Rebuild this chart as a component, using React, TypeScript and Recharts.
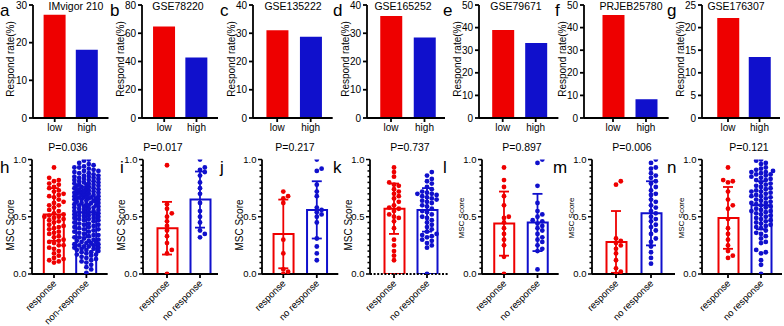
import React from "react";
import { BarChart, ComposedChart, Bar, Cell, Scatter, ErrorBar, XAxis, YAxis } from "recharts";

const RED = "#ee0000";
const BLUE = "#1010cc";
const FONT = "'Liberation Sans', Arial, Helvetica, sans-serif";

// ---- top row: respond rate (%) in low / high MSC groups ----
const cohorts = ["IMvigor 210", "GSE78220", "GSE135222", "GSE165252", "GSE79671", "PRJEB25780", "GSE176307"];
const topLetters = ["a", "b", "c", "d", "e", "f", "g"];
const groups = ["low", "high"];
const rateLow = [27.4, 64.8, 31.1, 36.1, 38.9, 45.6, 22.1];
const rateHigh = [18.1, 42.8, 28.8, 28.5, 33.2, 8.3, 13.5];
const rateMax = [30, 80, 40, 40, 50, 50, 25];
const rateStep = [10, 20, 10, 10, 10, 10, 5];

// ---- bottom row: MSC score by response ----
const bottomLetters = ["h", "i", "j", "k", "l", "m", "n"];
const pValues = ["P=0.036", "P=0.017", "P=0.217", "P=0.737", "P=0.897", "P=0.006", "P=0.121"];
const respName = "response";
const nonRespNames = ["non-response", "no response", "no response", "no response", "no response", "no response", "no response"];
const respMean = [0.52, 0.40, 0.35, 0.57, 0.44, 0.28, 0.49];
const respSd = [0.23, 0.23, 0.3, 0.22, 0.28, 0.27, 0.27];
const nonMean = [0.54, 0.65, 0.56, 0.56, 0.45, 0.53, 0.6];
const nonSd = [0.22, 0.245, 0.25, 0.19, 0.25, 0.28, 0.21];

const hResp = [0.93, 0.84, 0.82, 0.81, 0.79, 0.78, 0.76, 0.75, 0.73, 0.72, 0.7, 0.69, 0.68, 0.67, 0.65, 0.63, 0.62,
  0.6, 0.6, 0.58, 0.56, 0.55, 0.53, 0.52, 0.51, 0.5, 0.5, 0.49, 0.48, 0.47, 0.46, 0.45, 0.43, 0.42, 0.41, 0.4, 0.39,
  0.37, 0.36, 0.35, 0.33, 0.32, 0.3, 0.29, 0.28, 0.27, 0.25, 0.25, 0.23, 0.22, 0.2, 0.18, 0.16, 0.14, 0.13, 0.12, 0.11, 0.1];
const hNon = [1.0, 0.99, 0.97, 0.96, 0.95, 0.94, 0.93, 0.93, 0.92, 0.91, 0.9, 0.9, 0.89, 0.88, 0.88, 0.87, 0.86, 0.86,
  0.85, 0.85, 0.84, 0.84, 0.83, 0.83, 0.82, 0.82, 0.81, 0.81, 0.8, 0.8, 0.79, 0.79, 0.78, 0.78, 0.78, 0.77, 0.77, 0.76,
  0.76, 0.75, 0.75, 0.75, 0.74, 0.74, 0.73, 0.73, 0.73, 0.72, 0.72, 0.72, 0.71, 0.71, 0.71, 0.7, 0.7, 0.7, 0.69, 0.69,
  0.68, 0.68, 0.68, 0.67, 0.67, 0.67, 0.66, 0.66, 0.66, 0.65, 0.65, 0.65, 0.64, 0.64, 0.63, 0.63, 0.62, 0.62, 0.62,
  0.61, 0.61, 0.6, 0.6, 0.6, 0.59, 0.59, 0.58, 0.58, 0.57, 0.57, 0.56, 0.56, 0.55, 0.55, 0.54, 0.54, 0.53, 0.53, 0.52,
  0.52, 0.51, 0.51, 0.5, 0.5, 0.49, 0.49, 0.48, 0.48, 0.47, 0.47, 0.46, 0.45, 0.44, 0.44, 0.43, 0.43, 0.42, 0.41,
  0.41, 0.4, 0.39, 0.39, 0.38, 0.37, 0.37, 0.36, 0.35, 0.34, 0.34, 0.33, 0.32, 0.32, 0.31, 0.3, 0.3, 0.29, 0.29, 0.28,
  0.28, 0.27, 0.27, 0.26, 0.26, 0.25, 0.25, 0.24, 0.24, 0.23, 0.23, 0.22, 0.22, 0.21, 0.21, 0.2, 0.19, 0.19, 0.18,
  0.17, 0.17, 0.16, 0.15, 0.14, 0.13, 0.12, 0.11, 0.1, 0.08, 0.06, 0.04, 0.01];
const iResp = [0.95, 0.61, 0.57, 0.53, 0.5, 0.46, 0.42, 0.38, 0.33, 0.27, 0.21, 0.18, 0.0];
const iNon = [1.0, 0.93, 0.91, 0.89, 0.86, 0.8, 0.75, 0.7, 0.62, 0.55, 0.5, 0.45, 0.38, 0.35, 0.32];
const jResp = [0.72, 0.68, 0.66, 0.62, 0.3, 0.18, 0.04, 0.02, 0.0];
const jNon = [1.0, 0.92, 0.9, 0.78, 0.72, 0.68, 0.58, 0.56, 0.54, 0.52, 0.5, 0.45, 0.31, 0.24, 0.18, 0.12];
const kResp = [0.93, 0.89, 0.85, 0.8, 0.78, 0.77, 0.74, 0.72, 0.7, 0.68, 0.66, 0.63, 0.6, 0.58, 0.57, 0.55, 0.52,
  0.5, 0.49, 0.46, 0.4, 0.3, 0.25, 0.2, 0.16, 0.12];
const kNon = [0.89, 0.86, 0.83, 0.81, 0.79, 0.76, 0.74, 0.72, 0.71, 0.7, 0.7, 0.69, 0.68, 0.67, 0.66, 0.65, 0.64,
  0.63, 0.62, 0.6, 0.59, 0.57, 0.55, 0.54, 0.52, 0.5, 0.49, 0.47, 0.45, 0.43, 0.41, 0.39, 0.37, 0.35, 0.34, 0.33,
  0.32, 0.3, 0.29, 0.27, 0.25, 0.23, 0.0];
const lResp = [0.93, 0.82, 0.76, 0.68, 0.6, 0.5, 0.49, 0.45, 0.4, 0.35, 0.3, 0.25, 0.15, 0.0];
const lNon = [1.0, 0.97, 0.77, 0.62, 0.55, 0.52, 0.5, 0.47, 0.46, 0.44, 0.42, 0.4, 0.38, 0.35, 0.32, 0.3, 0.28,
  0.25, 0.22, 0.2, 0.04];
const mResp = [0.81, 0.78, 0.31, 0.29, 0.27, 0.25, 0.22, 0.18, 0.12, 0.05, 0.02, 0.0];
const mNon = [1.0, 0.97, 0.93, 0.92, 0.88, 0.86, 0.84, 0.81, 0.79, 0.76, 0.73, 0.7, 0.69, 0.65, 0.63, 0.6, 0.58,
  0.55, 0.53, 0.5, 0.48, 0.46, 0.43, 0.41, 0.38, 0.35, 0.31, 0.28, 0.24, 0.19, 0.14, 0.09];
const nResp = [0.93, 0.82, 0.81, 0.8, 0.72, 0.65, 0.6, 0.57, 0.48, 0.4, 0.35, 0.3, 0.25, 0.2, 0.16, 0.14];
const nNon = [1.0, 0.99, 0.97, 0.96, 0.93, 0.92, 0.91, 0.9, 0.89, 0.89, 0.88, 0.87, 0.87, 0.86, 0.85, 0.84, 0.83,
  0.82, 0.82, 0.8, 0.79, 0.78, 0.77, 0.76, 0.75, 0.74, 0.73, 0.72, 0.72, 0.71, 0.7, 0.69, 0.68, 0.68, 0.67, 0.66,
  0.65, 0.64, 0.63, 0.62, 0.62, 0.61, 0.6, 0.59, 0.58, 0.57, 0.56, 0.55, 0.55, 0.54, 0.53, 0.52, 0.51, 0.5, 0.49,
  0.48, 0.47, 0.46, 0.45, 0.44, 0.43, 0.42, 0.41, 0.4, 0.38, 0.36, 0.35, 0.33, 0.31, 0.28, 0.27, 0.21, 0.19, 0.18,
  0.12, 0.08, 0.0];
const respScores = [hResp, iResp, jResp, kResp, lResp, mResp, nResp];
const nonScores = [hNon, iNon, jNon, kNon, lNon, mNon, nNon];

// ---- layout (pixels) ----
const topAxisX = [32.5, 142, 253.3, 367, 479.3, 584, 702];
const topLowX = [54.2, 164.2, 277.5, 391, 503, 613, 728];
const topHighX = [86.4, 196.5, 311, 424.5, 536, 646, 759.5];
const topEndX = [108, 218, 333, 445, 558.7, 668.7, 780];
const topLetterX = [0, 110, 220, 333, 443, 555, 667];
const titleX = [76, 178, 293, 403, 516, 631, 736];

const botAxisX = [32.3, 143, 261.7, 370, 482, 592, 702];
const botRespX = [54.3, 167, 283, 394, 504, 616, 728];
const botNonX = [86.7, 200, 316.5, 427, 537.5, 651, 761];
const botEndX = [108, 218, 338, 448, 558.7, 675, 782];
const botLetterX = [0, 120, 220, 333, 443, 553, 667];
const pX = [68, 163, 295, 410, 522, 632, 749];

const YW = 32;
const TOP_PLOT_TOP = 5;
const TOP_PLOT_H = 113;
const BOT_TOP = 150;
const BOT_PLOT_TOP = 9.5;
const BOT_PLOT_H = 114.5;

function swarm(values: number[], group: number, band: number) {
  const sorted = [...values].sort((a, b) => a - b);
  const placed: { px: number; py: number }[] = [];
  return sorted.map((v) => {
    const py = v * BOT_PLOT_H;
    let best = 0;
    let bestD = -1;
    for (let k = 0; k <= 10; k++) {
      const off = k === 0 ? 0 : (k % 2 ? 1 : -1) * Math.ceil(k / 2) * 2.4;
      let minD = Infinity;
      for (const p of placed) {
        const d = Math.hypot(p.px - off, p.py - py);
        if (d < minD) minD = d;
      }
      if (minD >= 4.4) { best = off; break; }
      if (minD > bestD) { bestD = minD; best = off; }
    }
    placed.push({ px: best, py });
    return { x: group + best / band, y: v };
  });
}

const axisStyle = { stroke: "#000", strokeWidth: 1.8 };
const tickStyle = { fill: "#000", fontSize: 10, fontFamily: FONT };

function RatePanel({ i }: { i: number }) {
  const band = topHighX[i] - topLowX[i];
  const padL = topLowX[i] - band / 2 - topAxisX[i];
  const padR = topEndX[i] - (topHighX[i] + band / 2);
  const w = YW + (topEndX[i] - topAxisX[i]) + 2;
  const data = groups.map((g, k) => ({ name: g, v: k === 0 ? rateLow[i] : rateHigh[i] }));
  const ticks: number[] = [];
  for (let t = 0; t <= rateMax[i]; t += rateStep[i]) ticks.push(t);
  return (
    <div style={{ position: "absolute", left: topAxisX[i] - YW, top: 0 }}>
      <BarChart width={w} height={TOP_PLOT_TOP + TOP_PLOT_H + 20} data={data}
        margin={{ top: TOP_PLOT_TOP, right: 2, left: 0, bottom: 0 }}>
        <XAxis dataKey="name" padding={{ left: padL, right: padR }} height={20} interval={0}
          axisLine={axisStyle} tickLine={axisStyle} tickSize={4} tickMargin={2} tick={tickStyle} />
        <YAxis width={YW} domain={[0, rateMax[i]]} ticks={ticks} interval={0}
          axisLine={axisStyle} tickLine={axisStyle} tickSize={4} tickMargin={2} tick={tickStyle} />
        <Bar dataKey="v" barSize={22} isAnimationActive={false}>
          <Cell fill={RED} />
          <Cell fill={BLUE} />
        </Bar>
      </BarChart>
    </div>
  );
}

const scoreTicks = Array.from({ length: 21 }, (_, k) => k / 20);

// eslint-disable-next-line @typescript-eslint/no-explicit-any
function ScoreTick(props: any) {
  const { x, y, payload } = props;
  const v = payload.value;
  const major = Math.abs(v * 2 - Math.round(v * 2)) < 1e-6;
  return (
    <g>
      <line x1={x} x2={x - (major ? 4 : 2.5)} y1={y} y2={y} stroke="#000" strokeWidth={1.5} />
      {major && (
        <text x={x - 5.5} y={y} dy="0.355em" textAnchor="end" fill="#000" fontSize={9.5} fontFamily={FONT}>
          {v.toFixed(1)}
        </text>
      )}
    </g>
  );
}

// eslint-disable-next-line @typescript-eslint/no-explicit-any
function SlantTick(props: any) {
  const { x, y, payload } = props;
  const ax = x + 3;
  const ay = y + 5;
  return (
    <text x={ax} y={ay} transform={`rotate(-45 ${ax} ${ay})`} textAnchor="end" fill="#000" fontSize={9.5}
      fontFamily={FONT}>
      {payload.value}
    </text>
  );
}

function dot(color: string) {
  // eslint-disable-next-line @typescript-eslint/no-explicit-any
  return (p: any) => <circle cx={p.cx} cy={p.cy} r={2.4} fill={color} />;
}

function ScorePanel({ i }: { i: number }) {
  const band = botNonX[i] - botRespX[i];
  const padL = botRespX[i] - band / 2 - botAxisX[i];
  const padR = botEndX[i] - (botNonX[i] + band / 2);
  const w = YW + (botEndX[i] - botAxisX[i]) + 2;
  const data = [
    { name: respName, mean: respMean[i] },
    { name: nonRespNames[i], mean: nonMean[i] },
  ];
  const redPts = swarm(respScores[i], 0, band);
  const bluePts = swarm(nonScores[i], 1, band);
  const xLine = i === 3 ? { ...axisStyle, strokeDasharray: "2 1.6" } : axisStyle;
  return (
    <div style={{ position: "absolute", left: botAxisX[i] - YW, top: BOT_TOP }}>
      <ComposedChart width={w} height={176} data={data}
        margin={{ top: BOT_PLOT_TOP, right: 2, left: 0, bottom: 0 }}>
        <XAxis xAxisId="c" dataKey="name" padding={{ left: padL, right: padR }} height={176 - BOT_PLOT_TOP - BOT_PLOT_H}
          interval={0} axisLine={xLine} tickLine={axisStyle} tickSize={4} tickMargin={1}
          tick={(p: any) => <SlantTick {...p} />} />
        <XAxis xAxisId="n" dataKey="x" type="number" domain={[-0.5, 1.5]} allowDataOverflow
          padding={{ left: padL, right: padR }} hide />
        <YAxis width={YW} domain={[0, 1]} ticks={scoreTicks} interval={0} allowDataOverflow
          axisLine={axisStyle} tickLine={false} tickSize={0} tickMargin={0}
          tick={(p: any) => <ScoreTick {...p} />} />
        <Bar xAxisId="c" dataKey="mean" barSize={20} fill="none" strokeWidth={2} isAnimationActive={false}>
          <Cell stroke={RED} fill="none" />
          <Cell stroke={BLUE} fill="none" />
        </Bar>
        <Scatter xAxisId="n" data={redPts} dataKey="y" shape={dot(RED)} isAnimationActive={false} />
        <Scatter xAxisId="n" data={bluePts} dataKey="y" shape={dot(BLUE)} isAnimationActive={false} />
        <Scatter xAxisId="n" data={[{ x: 0, y: respMean[i], sd: respSd[i] }]} dataKey="y" shape={() => <g />}
          isAnimationActive={false}>
          <ErrorBar dataKey="sd" direction="y" width={5} stroke={RED} strokeWidth={1.8} isAnimationActive={false} />
        </Scatter>
        <Scatter xAxisId="n" data={[{ x: 1, y: nonMean[i], sd: nonSd[i] }]} dataKey="y" shape={() => <g />}
          isAnimationActive={false}>
          <ErrorBar dataKey="sd" direction="y" width={5} stroke={BLUE} strokeWidth={1.8} isAnimationActive={false} />
        </Scatter>
      </ComposedChart>
    </div>
  );
}

function Labels() {
  const txt = { fill: "#000", fontFamily: FONT };
  return (
    <svg width={784} height={326} style={{ position: "absolute", left: 0, top: 0, pointerEvents: "none" }}>
      {topLetters.map((l, i) => (
        <text key={l} x={topLetterX[i]} y={16} fontSize={17} {...txt}>{l}</text>
      ))}
      {cohorts.map((c, i) => (
        <text key={c} x={titleX[i]} y={10} fontSize={10.5} textAnchor="middle" {...txt}>{c}</text>
      ))}
      {topAxisX.map((ax, i) => (
        <text key={"ry" + i} transform={`translate(${ax - 22 + 3.5},59) rotate(-90)`} fontSize={10}
          textAnchor="middle" {...txt}>Respond rate(%)</text>
      ))}
      {bottomLetters.map((l, i) => (
        <text key={l} x={botLetterX[i]} y={173} fontSize={17} {...txt}>{l}</text>
      ))}
      {pValues.map((p, i) => (
        <text key={"p" + i} x={pX[i]} y={151} fontSize={10.5} textAnchor="middle" {...txt}>{p}</text>
      ))}
      {botAxisX.map((ax, i) => (
        <text key={"my" + i} transform={`translate(${ax - 22 + 3.5},${i < 4 ? 225 : 218}) rotate(-90)`}
          fontSize={i < 4 ? 10 : 8} textAnchor="middle" {...txt}>MSC Score</text>
      ))}
    </svg>
  );
}

export default function App() {
  return (
    <div style={{ position: "absolute", left: 0, top: 0, width: 784, height: 326, background: "#fff", overflow: "hidden" }}>
      {cohorts.map((_, i) => <RatePanel key={"r" + i} i={i} />)}
      {bottomLetters.map((_, i) => <ScorePanel key={"s" + i} i={i} />)}
      <Labels />
    </div>
  );
}
